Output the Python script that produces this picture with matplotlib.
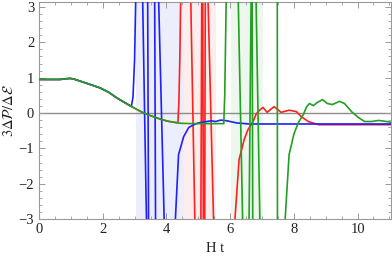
import numpy as np
import matplotlib
matplotlib.use("Agg")
import matplotlib.pyplot as plt
from matplotlib.ticker import MultipleLocator

plt.rcParams['mathtext.fontset'] = 'stix'
plt.rcParams['font.family'] = ['Liberation Serif', 'DejaVu Serif']

nan = np.nan

# shared early-time curve (all three runs coincide here)
common_x = [0.0, 0.3, 0.66, 0.85, 0.98, 1.1, 1.3, 1.6, 1.92, 2.2, 2.44, 2.7, 2.97, 3.2, 3.4, 3.7, 4.03, 4.3, 4.45, 4.8, 5.2, 5.5, 5.8]
common_y = [0.95, 0.95, 0.95, 0.97, 0.98, 0.96, 0.9, 0.81, 0.71, 0.58, 0.43, 0.29, 0.15, 0.04, -0.04, -0.14, -0.23, -0.27, -0.29, -0.3, -0.3, -0.3, -0.3]

# blue run (after departure from the common curve)
blue_x = [2.9, 2.95, 3.0, 3.04, nan, 3.25, 3.38, nan, 3.41, 3.44, nan, 3.63, 3.66, nan, 3.75, 3.94, nan,
          4.26, 4.38, 4.54, 4.7, 4.86, 5.0, 5.2, 5.4, 5.55, 5.7, 5.9, 6.2, 6.6, 7.0, 8.0, 9.0, 10.0, 11.1]
blue_y = [0.19, 0.45, 1.5, 3.4, nan, 3.4, -3.4, nan, 3.4, -3.4, nan, 3.4, -3.4, nan, 3.4, -3.4, nan,
          -3.4, -1.18, -0.67, -0.41, -0.33, -0.28, -0.25, -0.22, -0.24, -0.2, -0.22, -0.28, -0.31, -0.31, -0.31, -0.31, -0.31, -0.31]

# red run
red_x = [4.36, 4.39, 4.42, 4.45, nan, 4.76, 4.9, nan, 5.08, 5.11, nan, 5.14, 5.16, nan, 5.2, 5.22, nan, 5.3, 5.49, nan,
         6.12, 6.28, 6.44, 6.56, 6.72, 6.81, 6.9, 7.03, 7.16, 7.38, 7.6, 7.85, 8.08, 8.23, 8.45, 8.77, 9.2, 10.0, 11.1]
red_y = [-0.28, 0.3, 1.5, 3.4, nan, 3.4, -3.4, nan, -3.4, 3.4, nan, 3.4, -3.4, nan, -3.4, 3.4, nan, 3.4, -3.4, nan,
         -3.4, -1.32, -0.75, -0.47, -0.24, -0.04, 0.06, 0.16, 0.02, 0.18, 0.02, 0.08, 0.04, -0.1, -0.24, -0.33, -0.33, -0.33, -0.33]

# green run
green_x = [5.8, 5.83, 5.88, nan, 6.25, 6.4, nan, 6.59, 6.66, nan, 6.69, 6.71, nan, 6.81, 6.94, nan, 7.48, 7.485, nan,
           7.7, 7.85, 8.0, 8.14, 8.3, 8.39, 8.49, 8.61, 8.74, 8.9, 9.05, 9.21, 9.43, 9.59, 9.81, 10.03, 10.22, 10.44, 10.66, 10.91, 11.1]
green_y = [-0.3, 0.5, 3.4, nan, 3.4, -3.4, nan, -3.4, 3.4, nan, 3.4, -3.4, nan, 3.4, -3.4, nan, 3.4, -3.4, nan,
           -3.4, -1.18, -0.6, -0.27, -0.04, 0.16, 0.27, 0.21, 0.3, 0.38, 0.27, 0.24, 0.33, 0.27, 0.04, -0.13, -0.24, -0.24, -0.21, -0.24, -0.27]

# shaded intervals
bands = [(3.03, 4.54, '#eceefc'), (4.54, 5.55, '#fdeeee'), (6.03, 7.03, '#edf7ed')]

fig = plt.figure(figsize=(3.92, 2.58), dpi=100)
ax = fig.add_axes([0.0995, 0.151, 0.898, 0.841])

for a, b, c in bands:
    ax.axvspan(a, b, color=c, lw=0, zorder=0)

ax.axhline(0, color='#8c8c8c', lw=1.0, zorder=1)

blue_c = '#1f1fff'
red_c = '#ff2020'
green_c = '#22a022'
lw = 1.2

# blue and red first follow the common curve
bx = [x for x in common_x if x < 2.9] + blue_x
by = [y for x, y in zip(common_x, common_y) if x < 2.9] + blue_y
rx = [x for x in common_x if x < 4.36] + red_x
ry = [y for x, y in zip(common_x, common_y) if x < 4.36] + red_y
gx = [x for x in common_x if x < 5.8] + green_x
gy = [y for x, y in zip(common_x, common_y) if x < 5.8] + green_y

ax.plot(rx, ry, color=red_c, lw=lw, zorder=2)
ax.plot(bx, by, color=blue_c, lw=lw, zorder=3)
ax.plot(gx, gy, color=green_c, lw=lw, zorder=4)

ax.set_xlim(0, 11.05)
ax.set_ylim(-3, 3.14)
ax.xaxis.set_major_locator(MultipleLocator(2))
ax.xaxis.set_minor_locator(MultipleLocator(0.5))
ax.yaxis.set_major_locator(MultipleLocator(1))
ax.yaxis.set_minor_locator(MultipleLocator(0.2))
ax.tick_params(which='both', direction='in', top=True, right=True, color='#999999',
               labelsize=10.5, labelcolor='#222222')
ax.tick_params(which='major', length=4, width=0.7)
ax.tick_params(which='minor', length=2, width=0.6)
ax.tick_params(axis='x', pad=3)
for s in ax.spines.values():
    s.set_color('#999999')
    s.set_linewidth(0.8)

ax.set_xlabel('H t', fontsize=10.5, color='#222222', labelpad=4)
ax.set_ylabel(r'$3\Delta\mathcal{P}/\Delta\mathcal{E}$', fontsize=10.5, color='#222222', labelpad=2)

fig.savefig('out.png', dpi=100)
